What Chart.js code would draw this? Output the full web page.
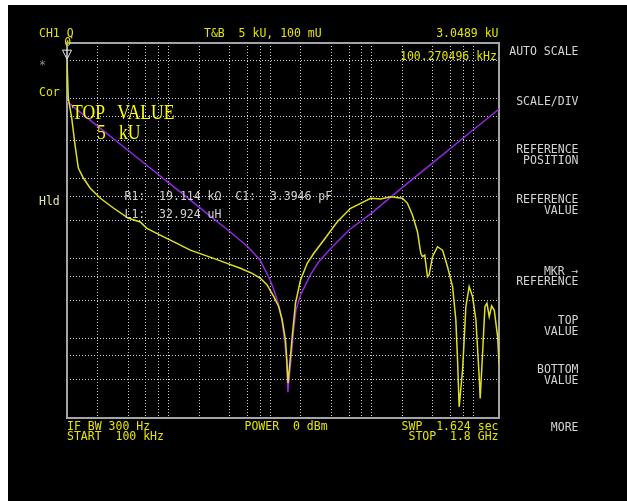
<!DOCTYPE html>
<html lang="en">
<head>
<meta charset="UTF-8">
<title>CH1 Q</title>
<script src="https://cdn.jsdelivr.net/npm/chart.js"></script>
<style>
    body {
        margin: 0;
        background: #ffffff;
        width: 627px;
        height: 501px;
        position: relative;
        overflow: hidden;
        font-family: 'DejaVu Sans Mono', monospace;
    }
    .screen {
        position: absolute;
        left: 8px;
        top: 5px;
        width: 619px;
        height: 496px;
        background: #000000;
    }
    canvas {
        position: absolute;
        left: 0;
        top: 0;
    }
    .t {
        position: absolute;
        font-size: 11.5px;
        line-height: 11px;
        white-space: pre;
        color: #e4e400;
    }
    .menu {
        color: #d4d4d4;
        text-align: right;
        right: 48.5px;
        line-height: 10.5px;
    }
    .gray { color: #d0d0d0; }
    .big {
        position: absolute;
        font-family: 'Liberation Serif', serif;
        font-size: 20px;
        line-height: 20px;
        white-space: pre;
        color: #ffff00;
        transform: scaleX(0.88);
        transform-origin: left top;
    }
</style>
</head>
<body>
    <div class="screen"></div>
    <canvas id="qChart" width="627" height="501"></canvas>

    <div class="t" style="left:39px; top:28px;">CH1 Q</div>
    <div class="t" style="left:204px; top:28.2px;">T&amp;B  5 kU, 100 mU</div>
    <div class="t" style="right:128.5px; top:28px;">3.0489 kU</div>
    <div class="t" style="left:64.3px; top:37px;">0</div>
    <div class="t" style="left:39px; top:60px; color:#8c8c8c;">*</div>
    <div class="t" style="left:39px; top:87.2px;">Cor</div>
    <div class="t" style="left:39px; top:195.5px; color:#e6e6a8;">Hld</div>
    <div class="t" style="left:400px; top:50.6px;">100.270496 kHz</div>

    <div class="big" style="left:71.5px; top:101.5px;">TOP   VALUE</div>
    <div class="big" style="left:96.5px; top:121.5px;">5   kU</div>

    <div class="t gray" style="left:124.5px; top:190.6px;">R1:  19.114 kΩ  C1:  3.3946 pF</div>
    <div class="t gray" style="left:124.5px; top:209px;">L1:  32.924 uH</div>

    <div class="t menu" style="top:46.2px;">AUTO SCALE</div>
    <div class="t menu" style="top:95.6px;">SCALE/DIV</div>
    <div class="t menu" style="top:144.2px;">REFERENCE<br>POSITION</div>
    <div class="t menu" style="top:194.2px;">REFERENCE<br>VALUE</div>
    <div class="t menu" style="top:265.8px;">MKR →<br>REFERENCE</div>
    <div class="t menu" style="top:315.2px;">TOP<br>VALUE</div>
    <div class="t menu" style="top:364.2px;">BOTTOM<br>VALUE</div>
    <div class="t menu" style="top:422.2px;">MORE</div>

    <div class="t" style="left:67px; top:421.1px; line-height:10px;">IF BW 300 Hz<br>START  100 kHz</div>
    <div class="t" style="left:244.5px; top:420.6px;">POWER  0 dBm</div>
    <div class="t" style="right:128.5px; top:421.1px; line-height:10px; text-align:right;">SWP  1.624 sec<br>STOP  1.8 GHz</div>

    <script>
        // measured trace (frequency in MHz, Q value)
        const measFreq = [0.1, 0.103, 0.1113, 0.12, 0.1293, 0.1449, 0.1687, 0.2117, 0.2865, 0.4,
            0.5256, 0.612, 0.828, 1.21, 1.638, 2.78, 3.77, 5.10, 6.66, 8.04,
            9.36, 10.88, 12.19, 13.17, 14.19, 14.68, 15.02, 15.37, 16.53, 17.82,
            19.96, 23.25, 27.0, 33.9, 46.0, 62.2, 78.1, 98.0, 123, 154.3,
            201.4, 225.6, 252.8, 283.2, 305.3, 317.3, 334.3, 355.5, 368.7, 398.4,
            446.3, 500, 560, 628, 676.5, 703, 729, 788, 849, 915,
            989, 1066, 1149, 1175, 1241, 1308, 1369, 1442, 1523, 1616,
            1746, 1800];
        const measQ = [3048.9, 1022, 574, 263, 135.6, 101.7, 76.2, 57.1, 42.8, 32.05,
            28.6, 23.8, 19.6, 15.45, 12.7, 10.0, 8.67, 7.51, 6.50, 5.63,
            4.64, 3.31, 2.48, 1.69, 0.95, 0.50, 0.274, 0.366, 1.04, 2.76,
            5.36, 8.67, 11.58, 17.0, 28.8, 42.4, 49.0, 56.6, 55.5, 59.3,
            56.6, 49.0, 35.0, 21.6, 11.58, 10.5, 11.0, 5.89, 6.19, 10.5,
            14.0, 12.7, 7.86, 4.42, 1.69, 0.533, 0.138, 0.40, 2.48, 4.42,
            3.31, 1.69, 0.329, 0.176, 0.652, 2.48, 2.74, 1.86, 2.53, 2.25,
            1.04, 0.484];

        // fitted equivalent circuit trace
        const fitFreq = [0.1, 0.2, 0.5, 1, 2, 4, 6, 8, 10, 11,
            12, 13, 14, 14.5, 15, 15.3, 15.6, 16, 17, 18,
            20, 25, 30, 40, 60, 100, 200, 400, 1000, 1800];
        const fitQ = [919, 455, 180, 89, 44, 21.7, 14.1, 9.5, 5.4, 3.9,
            2.76, 1.79, 0.87, 0.55, 0.21, 0.28, 0.37, 0.5, 1.2, 2.25,
            3.5, 6.2, 9.0, 13.5, 22.7, 37, 77, 157, 406, 745];

        // grid positions
        const freqGrid = [0.2, 0.4, 0.6, 0.8, 1, 2, 4, 6, 8, 10, 20, 40, 60, 80, 100, 200, 400, 600, 800, 1000];
        const qGrid = [0.3, 0.6, 1, 3, 6, 10, 30, 60, 100, 300, 600, 1000, 3000];

        const markerFreq = 0.1;
        const markerQ = 3048.9;

        const framePlugin = {
            id: 'frame',
            beforeDatasetsDraw(chart) {
                const a = chart.chartArea;
                const ctx = chart.ctx;
                ctx.save();
                ctx.strokeStyle = '#a4a4a4';
                ctx.lineWidth = 2;
                ctx.strokeRect(a.left, a.top, a.right - a.left, a.bottom - a.top);
                ctx.restore();
            },
            afterDatasetsDraw(chart) {
                const ctx = chart.ctx;
                const px = chart.scales.x.getPixelForValue(markerFreq);
                const py = chart.scales.y.getPixelForValue(markerQ);
                ctx.save();
                ctx.strokeStyle = '#e8e8e8';
                ctx.lineWidth = 1;
                ctx.beginPath();
                ctx.moveTo(px - 4.5, py - 10);
                ctx.lineTo(px + 4.5, py - 10);
                ctx.lineTo(px, py - 1);
                ctx.closePath();
                ctx.stroke();
                ctx.restore();
            }
        };

        const gridOpts = { color: '#cfcfcf', lineWidth: 1, drawTicks: false, borderDash: [1, 2] };

        new Chart(document.getElementById('qChart'), {
            type: 'line',
            data: {
                datasets: [{
                    label: 'Q',
                    data: measFreq.map((f, i) => ({ x: f, y: measQ[i] })),
                    borderColor: '#e0e020',
                    borderWidth: 1.5,
                    pointRadius: 0,
                    tension: 0,
                    order: 0
                }, {
                    label: 'Q fit',
                    data: fitFreq.map((f, i) => ({ x: f, y: fitQ[i] })),
                    borderColor: '#9028e4',
                    borderWidth: 1.5,
                    pointRadius: 0,
                    tension: 0,
                    order: 1
                }]
            },
            options: {
                responsive: false,
                animation: false,
                layout: { padding: { left: 67, top: 43, right: 128, bottom: 83 } },
                plugins: { legend: { display: false }, tooltip: { enabled: false } },
                scales: {
                    x: {
                        type: 'logarithmic',
                        min: 0.1,
                        max: 1800,
                        afterBuildTicks: s => { s.ticks = freqGrid.map(v => ({ value: v })); },
                        ticks: { display: false },
                        grid: gridOpts,
                        border: { display: false, dash: [1, 2] }
                    },
                    y: {
                        type: 'logarithmic',
                        min: 0.1,
                        max: 5000,
                        afterBuildTicks: s => { s.ticks = qGrid.map(v => ({ value: v })); },
                        ticks: { display: false },
                        grid: gridOpts,
                        border: { display: false, dash: [1, 2] }
                    }
                }
            },
            plugins: [framePlugin]
        });
    </script>
</body>
</html>
